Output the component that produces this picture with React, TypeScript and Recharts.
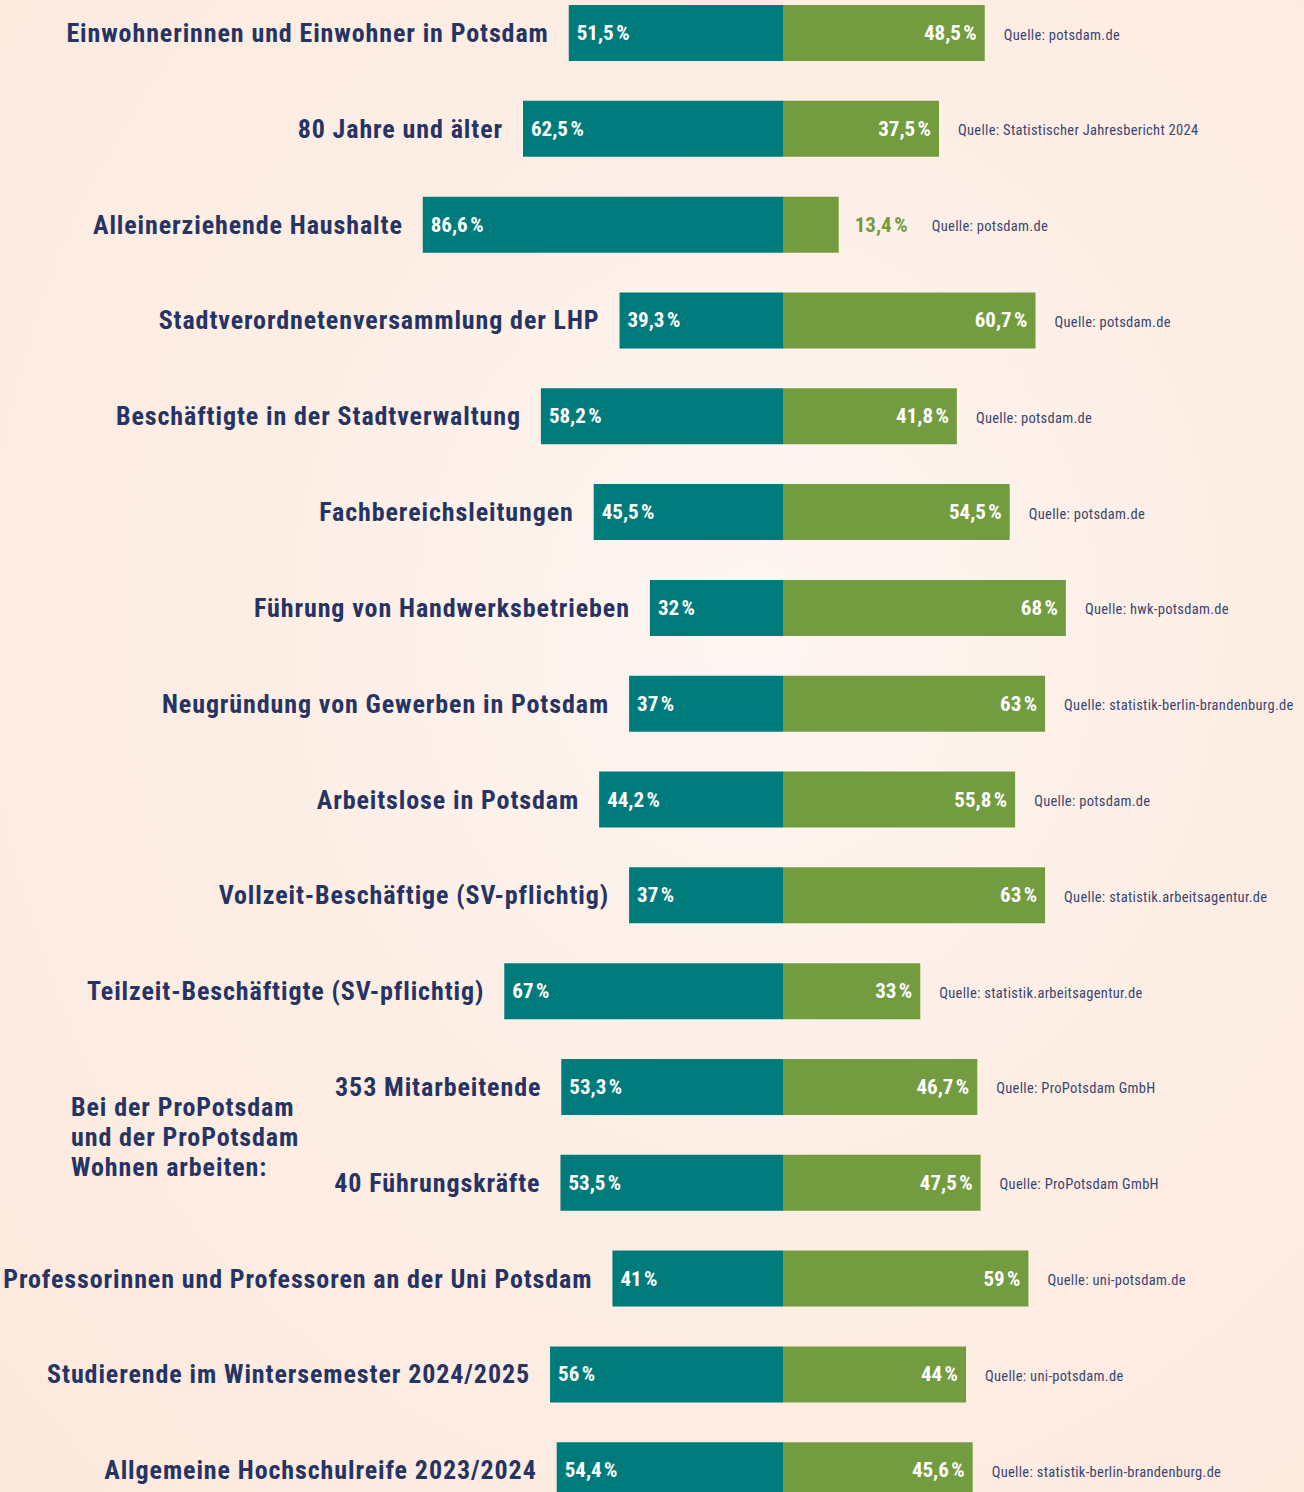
import { Bar, BarChart, LabelList, XAxis, YAxis } from 'recharts';

const categories = [
  'Einwohnerinnen und Einwohner in Potsdam',
  '80 Jahre und älter',
  'Alleinerziehende Haushalte',
  'Stadtverordnetenversammlung der LHP',
  'Beschäftigte in der Stadtverwaltung',
  'Fachbereichsleitungen',
  'Führung von Handwerksbetrieben',
  'Neugründung von Gewerben in Potsdam',
  'Arbeitslose in Potsdam',
  'Vollzeit-Beschäftige (SV-pflichtig)',
  'Teilzeit-Beschäftigte (SV-pflichtig)',
  '353 Mitarbeitende',
  '40 Führungskräfte',
  'Professorinnen und Professoren an der Uni Potsdam',
  'Studierende im Wintersemester 2024/2025',
  'Allgemeine Hochschulreife 2023/2024',
];

const women = [51.5, 62.5, 86.6, 39.3, 58.2, 45.5, 32, 37, 44.2, 37, 67, 53.3, 53.5, 41, 56, 54.4];
const men = [48.5, 37.5, 13.4, 60.7, 41.8, 54.5, 68, 63, 55.8, 63, 33, 46.7, 47.5, 59, 44, 45.6];

const sources = [
  'potsdam.de',
  'Statistischer Jahresbericht 2024',
  'potsdam.de',
  'potsdam.de',
  'potsdam.de',
  'potsdam.de',
  'hwk-potsdam.de',
  'statistik-berlin-brandenburg.de',
  'potsdam.de',
  'statistik.arbeitsagentur.de',
  'statistik.arbeitsagentur.de',
  'ProPotsdam GmbH',
  'ProPotsdam GmbH',
  'uni-potsdam.de',
  'uni-potsdam.de',
  'statistik-berlin-brandenburg.de',
];

const groupLines = ['Bei der ProPotsdam', 'und der ProPotsdam', 'Wohnen arbeiten:'];

const data = categories.map((name, i) => ({
  name,
  f: -women[i],
  m: men[i],
  source: sources[i],
}));

const TEAL = '#007b7b';
const GREEN = '#729c3f';
const NAVY = '#253463';
const FONT = '"Roboto Condensed", "Liberation Sans Narrow", "DejaVu Sans Condensed", "Open Sans", sans-serif';

const fmt = (v: number) => `${String(Math.abs(v)).replace('.', ',')}\u202F%`;

function LeftLabel(props: any) {
  const { x, y, width, height, index } = props;
  const left = Math.min(x, x + width);
  const cy = y + height / 2;
  return (
    <g>
      <text
        x={left - 20}
        y={cy}
        textAnchor="end"
        dominantBaseline="central"
        fill={NAVY}
        fontSize={26}
        fontWeight={700}
        fontFamily={FONT}
        letterSpacing={0.9}
      >
        {categories[index]}
      </text>
      <text
        x={left + 8}
        y={cy}
        dominantBaseline="central"
        fill="#ffffff"
        fontSize={21}
        fontWeight={700}
        fontFamily={FONT}
        letterSpacing={1.1}
      >
        {fmt(women[index])}
      </text>
    </g>
  );
}

function RightLabel(props: any) {
  const { x, y, width, height, index } = props;
  const right = Math.max(x, x + width);
  const cy = y + height / 2;
  const outside = men[index] < 20;
  const srcX = outside ? right + 93 : right + 19;
  return (
    <g>
      <text
        x={outside ? right + 16 : right - 8}
        y={cy}
        textAnchor={outside ? 'start' : 'end'}
        dominantBaseline="central"
        fill={outside ? GREEN : '#ffffff'}
        fontSize={21}
        fontWeight={700}
        fontFamily={FONT}
        letterSpacing={1.1}
      >
        {fmt(men[index])}
      </text>
      <text
        x={srcX}
        y={cy + 2}
        dominantBaseline="central"
        fill="#3a4570"
        fontSize={14.5}
        fontFamily={FONT}
        letterSpacing={0.3}
      >
        {`Quelle: ${sources[index]}`}
      </text>
    </g>
  );
}

export default function App() {
  return (
    <div
      style={{
        position: 'absolute',
        top: 0,
        left: 0,
        width: 1304,
        height: 1492,
        overflow: 'hidden',
        background: 'radial-gradient(ellipse at 58% 42%, #fef6f2 0%, #fdeee5 45%, #fce9dd 100%)',
      }}
    >
      <div style={{ position: 'absolute', top: -15, left: 0 }}>
        <BarChart
          width={1304}
          height={1533}
          data={data}
          layout="vertical"
          stackOffset="sign"
          barCategoryGap={0}
          margin={{ top: 0, right: 105, bottom: 0, left: 367 }}
        >
          <XAxis type="number" domain={[-100, 100]} hide />
          <YAxis type="category" dataKey="name" hide />
          <Bar dataKey="f" stackId="a" fill={TEAL} barSize={56} isAnimationActive={false}>
            <LabelList dataKey="f" content={LeftLabel} />
          </Bar>
          <Bar dataKey="m" stackId="a" fill={GREEN} barSize={56} isAnimationActive={false}>
            <LabelList dataKey="m" content={RightLabel} />
          </Bar>
        </BarChart>
      </div>
      <div
        style={{
          position: 'absolute',
          left: 71,
          top: 1092,
          color: NAVY,
          fontFamily: FONT,
          fontWeight: 700,
          fontSize: 26,
          letterSpacing: 0.9,
          lineHeight: '30px',
        }}
      >
        {groupLines.map((l) => (
          <div key={l}>{l}</div>
        ))}
      </div>
    </div>
  );
}
